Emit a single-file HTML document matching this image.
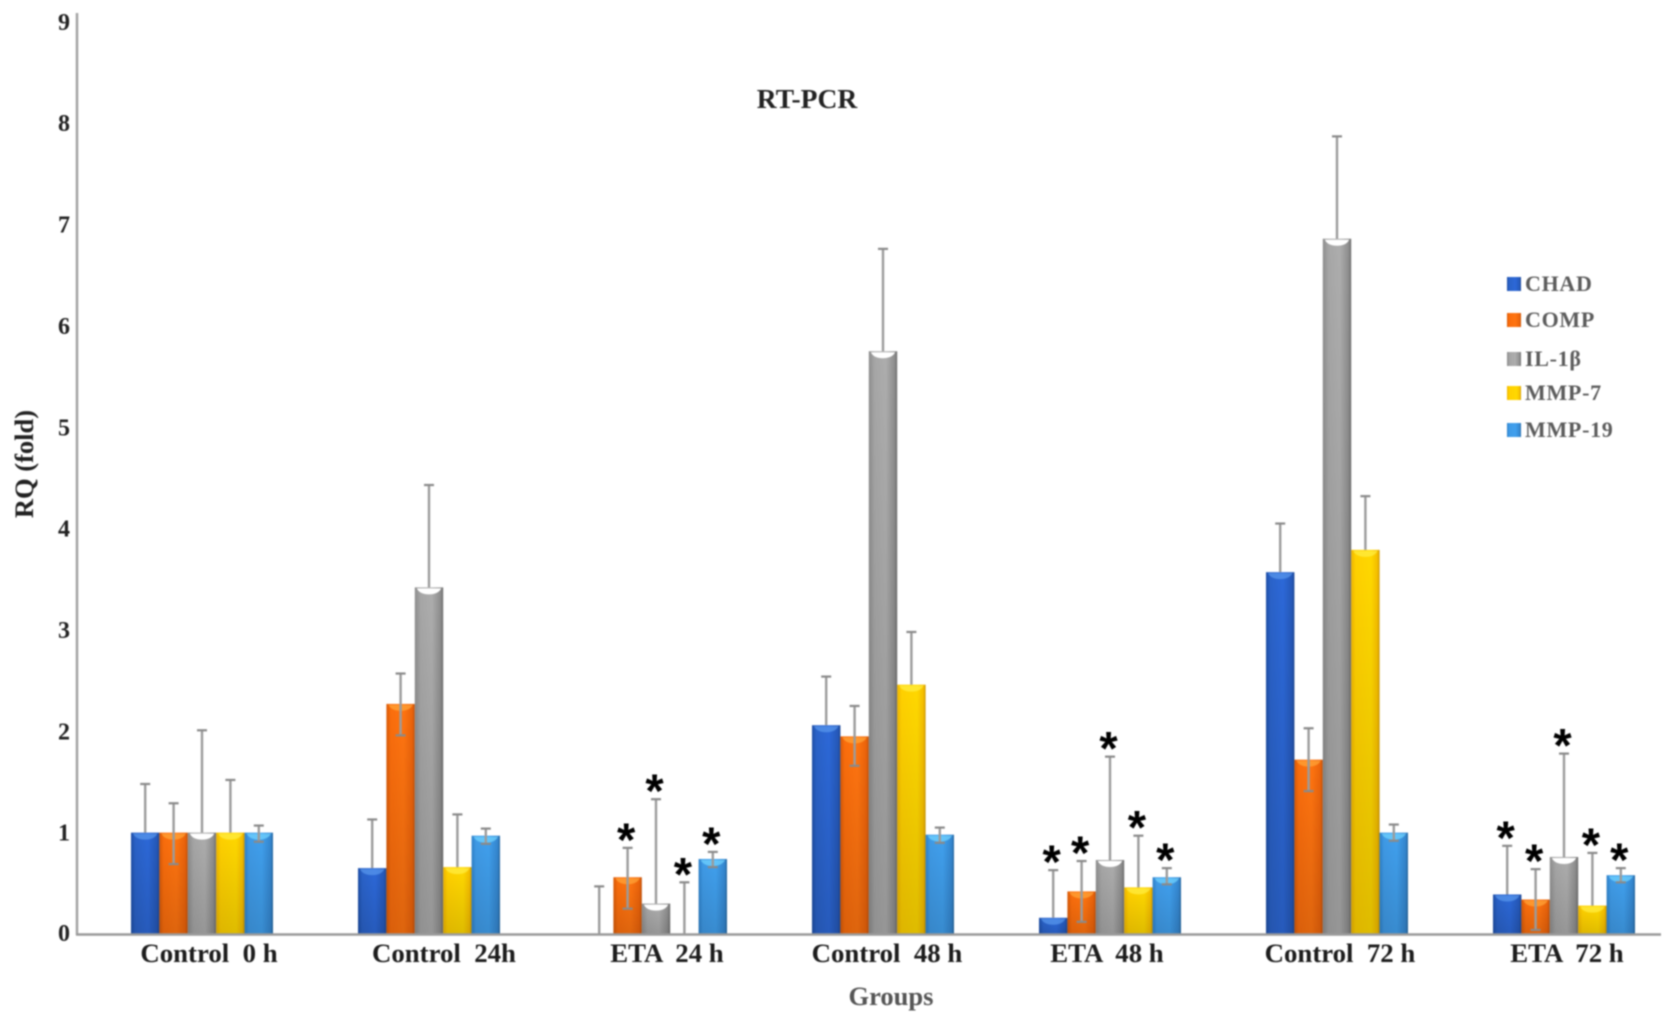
<!DOCTYPE html>
<html lang="en">
<head>
<meta charset="utf-8">
<title>RT-PCR chart</title>
<style>
  html, body { margin: 0; padding: 0; background: #fff; }
  svg { display: block; filter: blur(0.9px); }
  text { font-family: "Liberation Serif", serif; font-weight: bold; white-space: pre; }
</style>
</head>
<body>
<svg id="chart" xmlns="http://www.w3.org/2000/svg" width="1677" height="1026" viewBox="0 0 1677 1026" xml:space="preserve">
  <defs>
    <linearGradient id="grad-0" x1="0" x2="1" y1="0" y2="0"><stop offset="0" stop-color="#1d4ea6"/><stop offset=".15" stop-color="#2a62c8"/><stop offset=".6" stop-color="#2c68d8"/><stop offset=".92" stop-color="#2558b8"/><stop offset="1" stop-color="#1b4590"/></linearGradient>
    <linearGradient id="grad-1" x1="0" x2="1" y1="0" y2="0"><stop offset="0" stop-color="#d85a08"/><stop offset=".15" stop-color="#fa6d0c"/><stop offset=".6" stop-color="#ff7410"/><stop offset=".92" stop-color="#ea620a"/><stop offset="1" stop-color="#bd4e06"/></linearGradient>
    <linearGradient id="grad-2" x1="0" x2="1" y1="0" y2="0"><stop offset="0" stop-color="#8c8c8c"/><stop offset=".2" stop-color="#a6a6a6"/><stop offset=".6" stop-color="#adadad"/><stop offset=".9" stop-color="#8e8e8e"/><stop offset="1" stop-color="#6e6e6e"/></linearGradient>
    <linearGradient id="grad-3" x1="0" x2="1" y1="0" y2="0"><stop offset="0" stop-color="#eeb400"/><stop offset=".15" stop-color="#ffd000"/><stop offset=".7" stop-color="#ffd800"/><stop offset=".93" stop-color="#f4bc00"/><stop offset="1" stop-color="#c89400"/></linearGradient>
    <linearGradient id="grad-4" x1="0" x2="1" y1="0" y2="0"><stop offset="0" stop-color="#2d80c8"/><stop offset=".15" stop-color="#3f9ae6"/><stop offset=".6" stop-color="#40a0ee"/><stop offset=".92" stop-color="#3486cf"/><stop offset="1" stop-color="#26679f"/></linearGradient>
    <linearGradient id="shade" x1="0" x2="0" y1="0" y2="1"><stop offset="0" stop-color="#000" stop-opacity="0"/><stop offset="1" stop-color="#000" stop-opacity=".13"/></linearGradient>
  </defs>
  <g id="bars"></g>
  <g id="errors"></g>
  <g id="stars"></g>
  <line x1="77" y1="13" x2="77" y2="935" stroke="#a3a3a3" stroke-width="2.5"/>
  <line x1="76" y1="934.5" x2="1661" y2="934.5" stroke="#9a9a9a" stroke-width="2.5"/>
  <g id="y-ticks"></g>
  <g id="x-ticks"></g>
  <text x="807" y="108" font-size="27.5" text-anchor="middle" fill="#222">RT-PCR</text>
  <text x="891" y="1005" font-size="26.5" text-anchor="middle" fill="#555">Groups</text>
  <text x="0" y="0" font-size="26.5" text-anchor="middle" fill="#222" transform="translate(33 464) rotate(-90)">RQ (fold)</text>
  <g id="legend"></g>
</svg>
<script>
const categories = ["Control  0 h", "Control  24h", "ETA  24 h", "Control  48 h", "ETA  48 h", "Control  72 h", "ETA  72 h"];
const seriesNames = ["CHAD", "COMP", "IL-1β", "MMP-7", "MMP-19"];
const yTicks = [0, 1, 2, 3, 4, 5, 6, 7, 8, 9];

const chadValues = [1.0, 0.65, 0, 2.06, 0.16, 3.57, 0.39];
const compValues = [1.0, 2.27, 0.56, 1.95, 0.42, 1.72, 0.34];
const il1bValues = [1.0, 3.42, 0.30, 5.75, 0.73, 6.86, 0.76];
const mmp7Values = [1.0, 0.66, 0, 2.46, 0.46, 3.79, 0.28];
const mmp19Values = [1.0, 0.97, 0.74, 0.98, 0.56, 1.0, 0.58];

const chadErrTop = [1.48, 1.13, 0.47, 2.54, 0.63, 4.05, 0.87];
const compErrTop = [1.29, 2.57, 0.85, 2.25, 0.72, 2.03, 0.64];
const il1bErrTop = [2.01, 4.43, 1.33, 6.76, 1.75, 7.87, 1.78];
const mmp7ErrTop = [1.52, 1.18, 0.51, 2.98, 0.97, 4.32, 0.80];
const mmp19ErrTop = [1.07, 1.04, 0.81, 1.05, 0.65, 1.08, 0.65];

const compErrLow = [0.69, 1.96, 0.25, 1.66, 0.12, 1.41, 0.04];
const mmp19ErrLow = [0.91, 0.89, 0.66, 0.90, 0.49, 0.92, 0.51];

const chadStars = [false, false, false, false, true, false, true];
const compStars = [false, false, true, false, true, false, true];
const il1bStars = [false, false, true, false, true, false, true];
const mmp7Stars = [false, false, true, false, true, false, true];
const mmp19Stars = [false, false, true, false, true, false, true];

const allValues = [chadValues, compValues, il1bValues, mmp7Values, mmp19Values];
const allErrTop = [chadErrTop, compErrTop, il1bErrTop, mmp7ErrTop, mmp19ErrTop];
const allErrLow = [null, compErrLow, null, null, mmp19ErrLow];
const allStars = [chadStars, compStars, il1bStars, mmp7Stars, mmp19Stars];

const capColors = ["#5a98ec", "#ffa63a", "#ffffff", "#ffee44", "#74d6ff"];
const labelNudge = [7, 15, 11, 4, -3, 3, 3];
const legendRowY = [284, 320, 359, 393, 430];

const NS = "http://www.w3.org/2000/svg";
const BAR_W = 28.4;
function yScale(v) { return 934 - v * 101.35; }
function groupX(i) { return 131 + i * 227; }
function barX(g, s) { return groupX(g) + s * BAR_W; }
function make(tag, attrs, parent) {
  const el = document.createElementNS(NS, tag);
  for (const k in attrs) el.setAttribute(k, attrs[k]);
  parent.appendChild(el);
  return el;
}

const barsG = document.getElementById("bars");
const errG = document.getElementById("errors");
const starsG = document.getElementById("stars");

allValues.forEach(function (vals, s) {
  vals.forEach(function (v, g) {
    const x = barX(g, s);
    const y = yScale(v);
    const h = yScale(0) - y;
    if (v > 0) {
      const bar = make("rect", { x: x, y: y, width: BAR_W, height: h, fill: "url(#grad-" + s + ")" }, barsG);
      
      
      const shade = make("rect", { x: x, y: y, width: BAR_W, height: h, fill: "url(#shade)" }, barsG);
      
      
      const capH = Math.min(7, h * 0.6);
      const cap = make("path", { d: "M" + (x + 2) + " " + (y + 1) + " H" + (x + BAR_W - 2) + " Q" + (x + BAR_W - 5) + " " + (y + capH) + " " + (x + BAR_W / 2) + " " + (y + capH) + " Q" + (x + 5) + " " + (y + capH) + " " + (x + 2) + " " + (y + 1) + " Z", fill: capColors[s], "fill-opacity": s === 2 ? 1 : 0.7 }, barsG);
      
      
    }
    const cx = x + BAR_W / 2;
    const top = yScale(allErrTop[s][g]);
    const low = allErrLow[s] ? yScale(allErrLow[s][g]) : y;
    const stem = make("line", { x1: cx, x2: cx, y1: top, y2: low, stroke: "#9b9b9b", "stroke-width": 2.4 }, errG);
    
    
    const capTop = make("line", { x1: cx - 5, x2: cx + 5, y1: top, y2: top, stroke: "#8a8a8a", "stroke-width": 2.2 }, errG);
    
    
    if (allErrLow[s]) {
      const capLow = make("line", { x1: cx - 5, x2: cx + 5, y1: low, y2: low, stroke: "#8a8a8a", "stroke-width": 2.2 }, errG);
      
      
    }
    if (allStars[s][g]) {
      const star = make("text", { x: cx - 1.5, y: top + 8, "font-size": 47, "text-anchor": "middle", fill: "#000", style: "font-family:'Liberation Sans',sans-serif" }, starsG);
      
      
      star.textContent = "*";
    }
  });
});

const yTicksG = document.getElementById("y-ticks");
yTicks.forEach(function (t) {
  const lab = make("text", { x: 64, y: yScale(t) + 8 - (t === 0 ? 1 : 0), "font-size": 24, "text-anchor": "middle", fill: "#222" }, yTicksG);
  
  
  lab.textContent = String(t);
});

const xTicksG = document.getElementById("x-ticks");
categories.forEach(function (c, g) {
  const lab = make("text", { x: groupX(g) + 2.5 * BAR_W + labelNudge[g], y: 962, "font-size": 26.8, "text-anchor": "middle", fill: "#1c1c1c" }, xTicksG);
  
  
  lab.setAttribute('xml:space', 'preserve');
  lab.textContent = c;
});

const legendG = document.getElementById("legend");
seriesNames.forEach(function (n, s) {
  const swatch = make("rect", { x: 1507, y: legendRowY[s] - 7, width: 14, height: 14, fill: "url(#grad-" + s + ")" }, legendG);
  
  
  const lab = make("text", { x: 1525, y: legendRowY[s] + 7, "font-size": 22, fill: "#5c5c5c", "letter-spacing": "0.7" }, legendG);
  
  
  lab.textContent = n;
});
</script>
</body>
</html>
